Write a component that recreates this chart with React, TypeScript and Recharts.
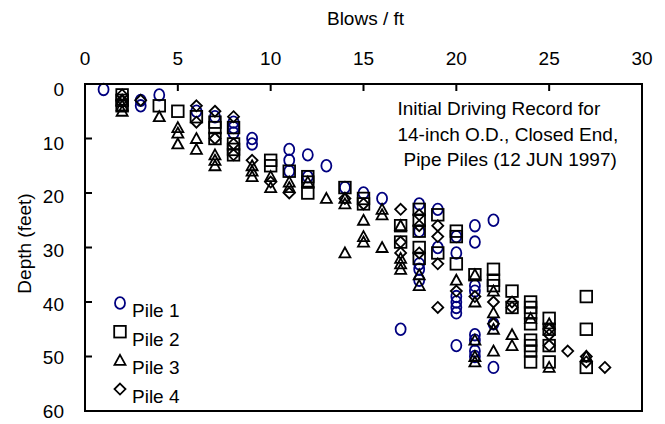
import React from 'react';
import { ScatterChart, Scatter, XAxis, YAxis, Legend } from 'recharts';

const FONT = '"Liberation Sans", Arial, sans-serif';
const FS = 19;

// Layout
const W = 665;
const H = 424;
const M = { top: 0, right: 23, bottom: 13, left: 0 };
const X_AXIS_H = 84;
const Y_AXIS_W = 85;
const PLOT_X = M.left + Y_AXIS_W;
const PLOT_Y = M.top + X_AXIS_H;
const PLOT_W = W - M.left - M.right - Y_AXIS_W;
const PLOT_H = H - M.top - M.bottom - X_AXIS_H;
const X_MAX = 30;
const Y_MAX = 60;

// Blows / ft ticks and depth ticks
const blowTicks = [0, 5, 10, 15, 20, 25, 30];
const depthTicks = [0, 10, 20, 30, 40, 50, 60];
const innerBlowTicks = [5, 10, 15, 20, 25];
const innerDepthTicks = [10, 20, 30, 40, 50];

// Annotation lines
const noteLines = ['Initial Driving Record for', '14-inch O.D., Closed End,', 'Pipe Piles (12 JUN 1997)'];

// Pile 1 (circles)
const pile1Blows = [1, 3, 3, 4, 6, 7, 8, 8, 8, 9, 9, 11, 11, 11, 12, 12, 13, 14, 15, 16, 18, 18, 18, 18, 18, 19, 19, 20, 20, 20, 20, 20, 20, 20, 17, 21, 21, 21, 21, 21, 21, 21, 21, 22, 22, 22];
const pile1Depth = [1, 3, 4, 2, 5, 6, 7, 8, 9, 10, 11, 12, 14, 16, 13, 17, 15, 19, 20, 21, 22, 27, 33, 34, 36, 23, 30, 28, 31, 39, 40, 41, 42, 48, 45, 26, 29, 37, 38, 46, 47, 49, 50, 25, 44, 52];

// Pile 2 (squares)
const pile2Blows = [2, 2, 2, 4, 5, 6, 7, 7, 7, 8, 8, 8, 8, 10, 10, 11, 12, 12, 12, 14, 15, 15, 17, 17, 18, 18, 18, 18, 18, 19, 19, 20, 20, 20, 21, 22, 22, 22, 23, 23, 24, 24, 24, 24, 24, 24, 24, 24, 25, 25, 25, 25, 27, 27, 27];
const pile2Depth = [2, 3, 4, 4, 5, 6, 7, 8, 10, 8, 11, 12, 13, 14, 15, 16, 17, 18, 20, 19, 21, 22, 26, 29, 23, 25, 27, 30, 32, 24, 31, 27, 28, 33, 35, 34, 36, 37, 38, 41, 40, 41, 42, 44, 47, 48, 49, 51, 43, 45, 48, 51, 39, 45, 52];

// Pile 3 (triangles)
const pile3Blows = [2, 2, 2, 4, 5, 5, 5, 6, 6, 7, 7, 7, 9, 9, 9, 10, 10, 11, 11, 12, 13, 14, 14, 14, 15, 15, 15, 16, 16, 16, 17, 17, 17, 17, 18, 18, 20, 21, 21, 21, 21, 21, 22, 22, 22, 22, 23, 23, 24, 25, 25, 27];
const pile3Depth = [3, 4, 5, 6, 8, 9, 11, 10, 12, 13, 14, 15, 15, 16, 17, 17, 19, 18, 19, 18, 21, 21, 22, 31, 25, 28, 29, 24, 23, 30, 26, 32, 33, 34, 35, 37, 36, 35, 40, 47, 50, 51, 38, 42, 45, 49, 46, 48, 43, 44, 52, 50];

// Pile 4 (diamonds)
const pile4Blows = [2, 2, 3, 6, 6, 7, 7, 8, 8, 8, 9, 10, 11, 14, 15, 17, 17, 17, 18, 18, 18, 19, 19, 19, 19, 20, 21, 22, 22, 23, 23, 25, 25, 25, 26, 27, 27, 28];
const pile4Depth = [2, 3, 3, 4, 7, 5, 10, 6, 11, 13, 14, 18, 20, 21, 22, 23, 29, 31, 24, 26, 31, 26, 28, 33, 41, 38, 39, 40, 44, 40, 41, 45, 46, 48, 49, 50, 51, 52];

const toPoints = (b: number[], d: number[]) => b.map((x, i) => ({ blows: x, depth: d[i] }));

const pile1 = toPoints(pile1Blows, pile1Depth);
const pile2 = toPoints(pile2Blows, pile2Depth);
const pile3 = toPoints(pile3Blows, pile3Depth);
const pile4 = toPoints(pile4Blows, pile4Depth);

const NAVY = '#000080';
const INK = '#000';

const CircleMark = ({ cx, cy }: any) => (
  <ellipse cx={cx} cy={cy} rx={5} ry={5.8} fill="none" stroke={NAVY} strokeWidth={1.8} />
);
const SquareMark = ({ cx, cy }: any) => (
  <rect x={cx - 5.8} y={cy - 5.8} width={11.6} height={11.6} fill="none" stroke={INK} strokeWidth={1.8} />
);
const TriangleMark = ({ cx, cy }: any) => (
  <polygon points={`${cx},${cy - 5.5} ${cx + 5.5},${cy + 4.5} ${cx - 5.5},${cy + 4.5}`} fill="none" stroke={INK} strokeWidth={1.8} />
);
const DiamondMark = ({ cx, cy }: any) => (
  <polygon points={`${cx},${cy - 5.5} ${cx + 5.5},${cy} ${cx},${cy + 5.5} ${cx - 5.5},${cy}`} fill="none" stroke={INK} strokeWidth={1.8} />
);

const marks: Record<string, any> = {
  'Pile 1': CircleMark,
  'Pile 2': SquareMark,
  'Pile 3': TriangleMark,
  'Pile 4': DiamondMark,
};

const TopTick = (props: any) => {
  const { x, y, payload } = props;
  return (
    <text x={x} y={y - 19} textAnchor="middle" fontSize={FS} fontFamily={FONT} fill="#000">
      {payload.value}
    </text>
  );
};

const LeftTick = (props: any) => {
  const { x, y, payload } = props;
  const v = payload.value;
  const off = 12.3 - v * 0.092;
  return (
    <text x={x - 21} y={y + off} textAnchor="end" fontSize={FS} fontFamily={FONT} fill="#000">
      {v}
    </text>
  );
};

// X axis title plus the in-plot annotation (positioned from the axis box)
const XTitle = (props: any) => {
  const vb = props.viewBox || { x: 85, y: 0, width: 557, height: 84 };
  const ax = vb.x + vb.width * 0.561;
  const base = vb.y + vb.height + 31;
  return (
    <g>
      <text x={vb.x + vb.width / 2 + 2} y={vb.y + 25} textAnchor="middle" fontSize={FS} fontFamily={FONT} fill="#000">
        Blows / ft
      </text>
      {noteLines.map((t, i) => (
        <text key={t} x={ax + (i === 2 ? 6 : 0)} y={base + i * 25.5} fontSize={FS} fontFamily={FONT} fill="#000">
          {t}
        </text>
      ))}
    </g>
  );
};

const YTitle = (props: any) => {
  const vb = props.viewBox || { x: 0, y: 84, width: 85, height: 327 };
  const cx = vb.x + 31;
  const cy = vb.y + vb.height / 2 - 4;
  return (
    <text x={cx} y={cy} transform={`rotate(-90 ${cx} ${cy})`} textAnchor="middle" fontSize={FS} fontFamily={FONT} fill="#000">
      Depth (feet)
    </text>
  );
};

const LegendContent = (props: any) => {
  const payload = (props.payload || []).filter((e: any) => marks[e.value]);
  return (
    <svg width={100} height={118} style={{ display: 'block' }}>
      {payload.map((entry: any, i: number) => {
        const Mark = marks[entry.value];
        const my = 11 + i * 28.7;
        return (
          <g key={entry.value}>
            <Mark cx={10} cy={my} />
            <text x={22} y={my + 14} fontSize={FS} fontFamily={FONT} fill="#000">
              {entry.value}
            </text>
          </g>
        );
      })}
    </svg>
  );
};

// Plot frame with inward ticks, laid over the chart's plot box
const FrameOverlay = () => (
  <svg
    width={W}
    height={H}
    style={{ position: 'absolute', left: 0, top: 0, pointerEvents: 'none', display: 'block' }}
  >
    <rect x={PLOT_X} y={PLOT_Y} width={PLOT_W} height={PLOT_H} fill="none" stroke={INK} strokeWidth={2} />
    {innerBlowTicks.map((v) => {
      const x = PLOT_X + (v / X_MAX) * PLOT_W;
      return <rect key={`t${v}`} x={x - 1} y={PLOT_Y} width={2} height={7} fill={INK} />;
    })}
    {innerDepthTicks.map((v) => {
      const y = PLOT_Y + (v / Y_MAX) * PLOT_H;
      return <rect key={`l${v}`} x={PLOT_X} y={y - 1} width={7} height={2} fill={INK} />;
    })}
  </svg>
);

export default function App() {
  return (
    <div style={{ position: 'absolute', left: 0, top: 0, width: W, height: H, background: '#fff' }}>
      <ScatterChart width={W} height={H} margin={M}>
        <XAxis
          xAxisId={0}
          type="number"
          dataKey="blows"
          orientation="top"
          height={X_AXIS_H}
          domain={[0, X_MAX]}
          ticks={blowTicks}
          interval={0}
          axisLine={false}
          tickLine={false}
          tickSize={0}
          tickMargin={0}
          tick={<TopTick />}
          label={<XTitle />}
        />
        <YAxis
          yAxisId={0}
          type="number"
          dataKey="depth"
          width={Y_AXIS_W}
          reversed
          domain={[0, Y_MAX]}
          ticks={depthTicks}
          interval={0}
          axisLine={false}
          tickLine={false}
          tickSize={0}
          tickMargin={0}
          tick={<LeftTick />}
          label={<YTitle />}
        />
        <Scatter name="Pile 1" data={pile1} shape={CircleMark} isAnimationActive={false} />
        <Scatter name="Pile 2" data={pile2} shape={SquareMark} isAnimationActive={false} />
        <Scatter name="Pile 3" data={pile3} shape={TriangleMark} isAnimationActive={false} />
        <Scatter name="Pile 4" data={pile4} shape={DiamondMark} isAnimationActive={false} />
        <Legend
          layout="horizontal"
          verticalAlign="middle"
          align="center"
          content={<LegendContent />}
          wrapperStyle={{ left: 110, top: 292, width: 100, height: 118 }}
        />
      </ScatterChart>
      <FrameOverlay />
    </div>
  );
}
